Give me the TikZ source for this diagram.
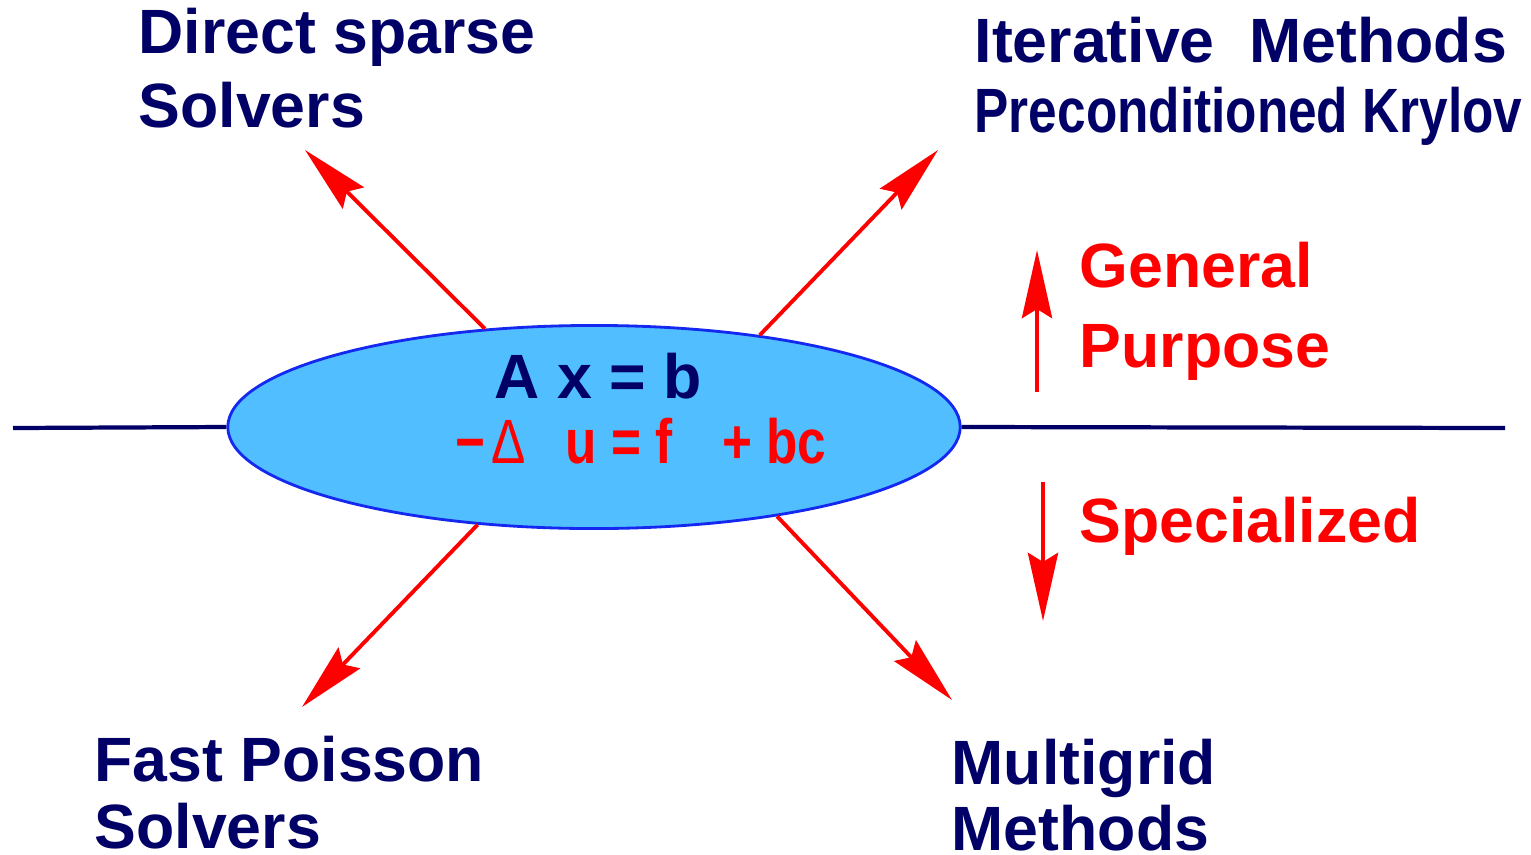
\documentclass[tikz,border=0pt]{standalone}
\usepackage{fontspec}
\setmainfont{Liberation Sans}
\usetikzlibrary{positioning,shapes.geometric,arrows.meta}

\definecolor{navy}{RGB}{0,0,102}
\definecolor{skyfill}{RGB}{80,190,255}
\definecolor{rimblue}{RGB}{20,40,240}

\begin{document}
\begin{tikzpicture}[
    x=0.01cm, y=-0.01cm,
    font=\bfseries\fontsize{17.8}{20.5}\selectfont,
    label/.style={text=#1, align=left, anchor=base west, inner sep=0pt},
    label/.default=navy,
    ray/.style={draw=red, line width=1.1pt,
        -{Stealth[length=6.8mm, width=3mm, inset=0.9mm]}},
    axis/.style={draw=navy, line width=1.2pt},
]
\useasboundingbox (0,0) rectangle (1531,854);

% central problem
\node[ellipse, draw=rimblue, line width=0.8pt, fill=skyfill, inner sep=0pt,
    minimum width=7.32cm, minimum height=2.03cm] (eq) at (594,427) {};
\node[label] (axb) at (494,398) {A x = b};
\node[label=red] (pde) at (455,463)
    {\scalebox{0.82}[1]{−\hspace{0.07cm}{\mdseries Δ}\hspace{0.49cm}u = f\hspace{0.6cm}+ bc}};

% dividing line
\coordinate (lend) at (13,428);
\coordinate (rend) at (1505,428);
\draw[axis] (lend) -- (eq.west);
\draw[axis] (eq.east) -- (rend);

% solver families (base = last line)
\node[label] (direct) at (138,127) {Direct sparse\\[0.01cm]Solvers};
\node[label] (iter) at (974,132)
    {Iterative\ \ Methods\\[-0.03cm]\scalebox{0.82}[1]{Preconditioned Krylov}};
\node[label] (fast) at (94,848) {Fast Poisson\\[-0.06cm]Solvers};
\node[label] (multi) at (951,850) {Multigrid\\[-0.07cm]Methods};

\coordinate (tl) at (305,150);
\coordinate (tr) at (938,150);
\coordinate (bl) at (302,707);
\coordinate (br) at (952,700);
\draw[ray] (eq.138) -- (tl);
\draw[ray] (eq.29) -- (tr);
\draw[ray] (eq.220) -- (bl);
\draw[ray] (eq.334) -- (br);

% general vs specialized
\node[label=red] (general) at (1079,367) {General\\[0.07cm]Purpose};
\node[label=red] (special) at (1079,542) {Specialized};
\coordinate (upfoot) at (1037,392);
\coordinate (uptip) at (1037,250);
\coordinate (dnfoot) at (1043,482);
\coordinate (dntip) at (1043,621);
\draw[ray, line width=1.4pt] (upfoot) -- (uptip);
\draw[ray, line width=1.4pt] (dnfoot) -- (dntip);

\end{tikzpicture}
\end{document}
